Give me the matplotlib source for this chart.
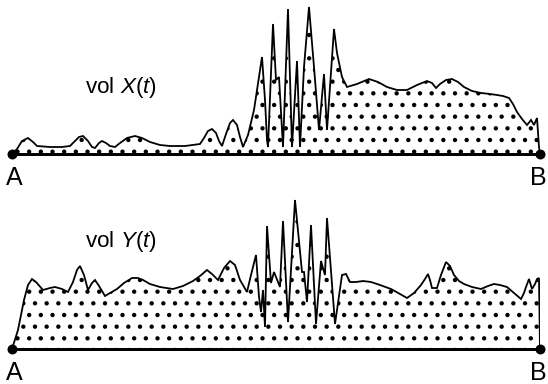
import matplotlib
matplotlib.use('Agg')
import matplotlib.pyplot as plt
import numpy as np

# time axis runs from A (t=0) to B (t=528); volume in arbitrary units
t_x = [0, 5, 10, 16, 21, 25, 38, 50, 58, 63, 67, 71, 76, 80, 83, 87, 90, 94, 98, 103,
       108, 115, 123, 130, 138, 148, 158, 173, 188, 192, 196, 200, 204, 207, 210, 214,
       218, 221, 225, 228, 231, 236, 242, 250, 253, 255, 256, 261, 264, 267, 271, 276,
       280, 285, 288, 292, 297, 302, 307, 312, 315, 322, 325, 330, 335, 345, 357, 366,
       375, 385, 395, 405, 415, 420, 424, 428, 434, 440, 446, 452, 460, 469, 478, 485,
       491, 497, 501, 505, 510, 515, 519, 522, 525, 527, 528]
vol_x = [0, 5, 13, 16, 12, 8, 7, 7, 8, 13, 17, 18, 13, 7, 6, 11, 13, 11, 8, 7,
         11, 16, 18, 16, 12, 9, 8, 8, 10, 16, 23, 25, 21, 13, 8, 20, 31, 34, 29, 17,
         7, 19, 44, 97, 54, 14, 7, 130, 74, 77, 7, 145, 7, 93, 7, 87, 147, 87, 24, 80,
         24, 125, 101, 77, 67, 70, 75, 72, 67, 64, 64, 69, 73, 71, 66, 70, 74, 75, 72, 67,
         63, 61, 60, 59, 58, 56, 50, 42, 35, 29, 34, 29, 36, 7, 0]

t_y = [0, 6, 12, 16, 20, 24, 31, 38, 43, 50, 56, 61, 65, 68, 72, 76, 80, 83, 87, 93,
       98, 105, 112, 120, 126, 131, 138, 148, 161, 171, 181, 188, 195, 200, 206, 212,
       218, 223, 228, 235, 239, 244, 247, 249, 251, 253, 255, 259, 262, 268, 271, 276,
       283, 290, 292, 295, 299, 304, 309, 313, 315, 323, 330, 334, 338, 344, 351, 359,
       368, 379, 388, 395, 402, 409, 413, 416, 418, 420, 425, 429, 434, 438, 442, 447,
       452, 460, 469, 476, 482, 488, 495, 502, 509, 512, 514, 517, 520, 523, 525, 527,
       528]
vol_y = [0, 19, 49, 64, 70, 67, 59, 61, 62, 60, 57, 67, 79, 83, 74, 59, 66, 69, 63, 53,
         56, 60, 66, 71, 71, 69, 65, 62, 60, 63, 68, 73, 79, 75, 69, 81, 88, 84, 69, 57,
         74, 94, 52, 37, 59, 22, 123, 66, 77, 62, 128, 27, 149, 77, 77, 47, 124, 25, 88, 74,
         131, 25, 74, 75, 67, 67, 68, 67, 64, 60, 55, 51, 56, 64, 70, 75, 69, 61, 61, 74,
         87, 83, 74, 68, 65, 62, 60, 63, 65, 64, 62, 56, 50, 56, 62, 70, 60, 65, 70, 71,
         0]

panels = [(t_x, vol_x, 'vol $X(t)$', 66), (t_y, vol_y, 'vol $Y(t)$', 108)]

plt.rcParams['font.family'] = ['Liberation Sans', 'DejaVu Sans']
plt.rcParams['mathtext.fontset'] = 'custom'
plt.rcParams['mathtext.rm'] = 'Liberation Sans'
plt.rcParams['mathtext.it'] = 'Liberation Sans:italic'

W, H, DPI = 548, 384, 140
pt = 72 / DPI  # one pixel in points
plt.rcParams['hatch.linewidth'] = 2.0 * pt

fig = plt.figure(figsize=(W / DPI, H / DPI), dpi=DPI)

# baseline row (px from top) of each panel
baselines = [154, 349]
x0, x1 = 12, 540
ymax = 150

for (t, v, label, ylab), base in zip(panels, baselines):
    ax = fig.add_axes([x0 / W, (H - base) / H, (x1 - x0) / W, ymax / H])
    ax.set_xlim(0, 528)
    ax.set_ylim(0, ymax)
    ax.axis('off')
    ax.fill_between(t, v, 0, facecolor='white', edgecolor='black', linewidth=0,
                    hatch='..')
    ax.plot(t, v, color='black', lw=1.8 * pt, solid_joinstyle='miter')
    ax.plot([0, 528], [0, 0], color='black', lw=3 * pt, clip_on=False,
            solid_capstyle='butt')
    ax.plot([0, 528], [0, 0], 'o', color='black', ms=8 * pt, clip_on=False)
    ax.text(73, ylab, label, fontsize=22.5 * pt, ha='left', va='center')
    ax.text(2.5, -24, 'A', fontsize=25 * pt, ha='center', va='center')
    ax.text(535, -24, 'B', fontsize=25 * pt, ha='right', va='center', clip_on=False)

fig.savefig('out.png', dpi=DPI)
